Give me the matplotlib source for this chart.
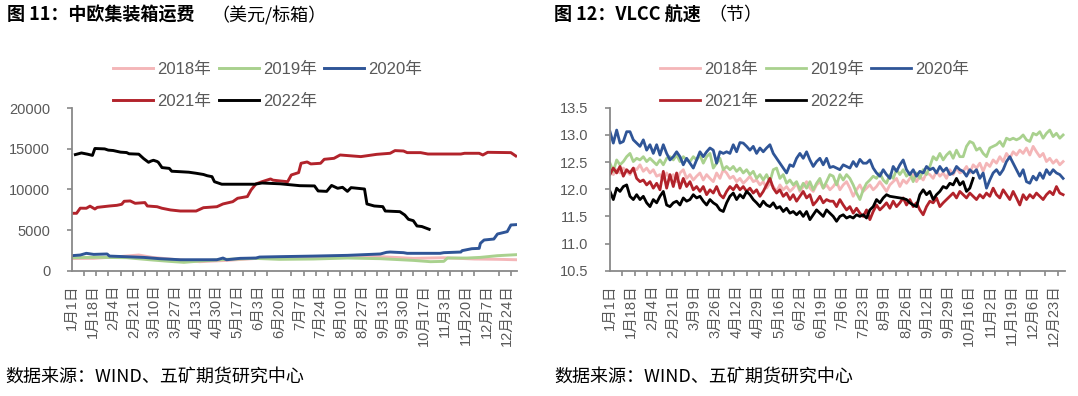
import numpy as np
import matplotlib.pyplot as plt
from matplotlib.ticker import MultipleLocator

plt.rcParams['font.family'] = ['Liberation Sans', 'Noto Sans CJK SC']

W, H = 1078, 396
GRAY = '#898989'
TXT = '#595959'
colors = {'2018年': '#F4B6B8', '2019年': '#A9D18E', '2020年': '#2F5597',
          '2021年': '#B2232B', '2022年': '#000000'}

# ---- 图11 中欧集装箱运费 (美元/标箱), x = 天数(自1月1日起)
freight_2018_day = [0, 18, 40, 55, 66, 90, 105, 127, 150, 175, 200, 230, 253, 280, 305, 330, 350, 364]
freight_2018 = [1500, 1520, 1750, 1930, 1640, 1300, 1110, 1270, 1500, 1650, 1730, 1750, 1730, 1520, 1600, 1440, 1400, 1350]
freight_2019_day = [0, 20, 45, 66, 80, 92, 105, 127, 150, 170, 198, 226, 253, 280, 294, 305, 308, 324, 335, 349, 364]
freight_2019 = [1600, 1650, 1600, 1320, 1150, 1030, 1190, 1400, 1520, 1400, 1440, 1560, 1480, 1270, 1110, 1150, 1560, 1560, 1640, 1850, 1970]
freight_2020_day = [0, 7, 12, 18, 29, 31, 45, 59, 72, 89, 119, 124, 127, 138, 151, 154, 171, 198, 226, 253, 258,
                    261, 272, 275, 302, 305, 319, 320, 328, 334, 335, 338, 346, 349, 357, 360, 364]
freight_2020 = [1850, 1930, 2140, 2010, 2060, 1800, 1720, 1640, 1480, 1350, 1350, 1560, 1350, 1520, 1560, 1680, 1730,
                1800, 1890, 2060, 2260, 2300, 2220, 2140, 2140, 2220, 2300, 2470, 2710, 2750, 3370, 3780, 3900, 4520,
                4810, 5630, 5670]
freight_2021_day = [0, 4, 7, 12, 15, 19, 21, 31, 37, 41, 43, 48, 52, 60, 62, 70, 74, 81, 89, 102, 108, 119, 124, 132,
                    136, 144, 147, 151, 156, 163, 165, 171, 177, 180, 186, 188, 193, 196, 204, 207, 215, 220, 237, 250,
                    261, 265, 272, 275, 286, 292, 319, 322, 334, 337, 341, 360, 364]
freight_2021 = [7070, 7070, 7700, 7690, 7950, 7600, 7800, 7970, 8050, 8180, 8550, 8590, 8300, 8390, 7970, 7880, 7690,
                7480, 7350, 7350, 7760, 7880, 8220, 8500, 8920, 9130, 9940, 10680, 10960, 11300, 11150, 11050, 10960,
                11790, 12080, 13230, 13390, 13150, 13230, 13720, 13840, 14250, 14050, 14330, 14460, 14790, 14740,
                14540, 14540, 14370, 14370, 14460, 14460, 14250, 14580, 14540, 14130]
freight_2022_day = [3, 8, 13, 17, 19, 27, 30, 34, 40, 45, 47, 55, 59, 63, 65, 67, 70, 71, 74, 80, 82, 88, 96, 102, 108,
                    111, 115, 117, 123, 150, 156, 171, 187, 199, 202, 209, 213, 218, 222, 226, 229, 240, 242, 248, 255,
                    257, 269, 273, 276, 280, 283, 287, 293]
freight_2022 = [14300, 14500, 14350, 14200, 15050, 15000, 14850, 14800, 14600, 14550, 14400, 14350, 13800, 13350,
                13500, 13600, 13450, 13350, 12700, 12600, 12250, 12200, 12130, 12000, 11850, 11700, 11580, 10960,
                10650, 10650, 10800, 10700, 10470, 10440, 9820, 9770, 10500, 10150, 10270, 9770, 10230, 10060, 8220,
                7970, 7890, 7350, 7270, 6860, 6330, 6160, 5510, 5440, 5100]

left_labels = ['1月1日', '1月18日', '2月4日', '2月21日', '3月10日', '3月27日', '4月13日', '4月30日', '5月17日',
               '6月3日', '6月20日', '7月7日', '7月24日', '8月10日', '8月27日', '9月13日', '9月30日', '10月17日',
               '11月3日', '11月20日', '12月7日', '12月24日']

# ---- 图12 VLCC 航速 (节), 约每2.68天读一个点
speed_step = 2.68
speed_2018 = [12.42, 12.27, 12.36, 12.30, 12.39, 12.33, 12.27, 12.39, 12.36, 12.45, 12.33, 12.39, 12.30, 12.36, 12.24,
              12.27, 12.17, 12.30, 12.20, 12.27, 12.14, 12.30, 12.36, 12.20, 12.27, 12.17, 12.24, 12.30, 12.17, 12.27,
              12.20, 12.14, 12.30, 12.20, 12.36, 12.30, 12.20, 12.24, 12.14, 12.20, 12.11, 12.17, 12.24, 12.14, 12.17,
              12.08, 12.14, 12.02, 12.11, 12.05, 11.96, 12.08, 11.99, 12.05, 11.96, 12.02, 12.11, 11.96, 12.05, 12.14,
              12.02, 11.96, 12.08, 12.14, 12.02, 12.08, 11.99,
              12.05, 12.14, 11.99, 12.08, 12.14, 12.02, 11.87, 11.99, 12.08, 11.96, 12.02, 12.08, 11.99, 12.05, 12.14,
              12.05, 11.96, 12.08, 12.14, 12.20, 12.05, 12.17, 12.11, 12.20, 12.27, 12.14, 12.24, 12.17, 12.30, 12.27,
              12.20, 12.33, 12.24, 12.30, 12.20, 12.36, 12.27, 12.39, 12.30, 12.33, 12.42, 12.30, 12.45, 12.39, 12.48,
              12.33, 12.48, 12.42, 12.54, 12.48, 12.60, 12.51, 12.66, 12.57, 12.69, 12.63, 12.72, 12.66, 12.76, 12.63,
              12.79, 12.69, 12.60, 12.66, 12.51, 12.57, 12.48, 12.54, 12.45, 12.51]
speed_2019 = [12.48, 12.33, 12.54, 12.45, 12.51, 12.60, 12.66, 12.51, 12.57, 12.54, 12.60, 12.51, 12.57, 12.51, 12.45,
              12.54, 12.45, 12.57, 12.60, 12.54, 12.63, 12.51, 12.60, 12.54, 12.51, 12.60, 12.54, 12.63, 12.48, 12.60,
              12.66, 12.39, 12.48, 12.57, 12.36, 12.42, 12.36, 12.42, 12.33, 12.39, 12.30, 12.36, 12.27, 12.33, 12.20,
              12.27, 12.17, 12.27, 12.14, 12.36, 12.39, 12.20, 12.27, 12.11, 12.17, 12.08, 12.14, 11.99, 12.11, 12.02,
              12.14, 11.99, 12.11, 12.20, 12.02, 12.14, 12.27,
              12.24, 12.08, 12.27, 12.17, 12.27, 12.20, 12.08, 11.93, 11.81, 11.99, 12.11, 12.17, 12.24, 12.20, 12.30,
              12.17, 12.11, 12.27, 12.20, 12.36, 12.27, 12.36, 12.24, 12.30, 12.14, 12.30, 12.20, 12.36, 12.27, 12.42,
              12.60, 12.54, 12.66, 12.54, 12.63, 12.69, 12.57, 12.72, 12.60, 12.60, 12.79, 12.88, 12.85, 12.72, 12.76,
              12.66, 12.60, 12.76, 12.79, 12.82, 12.88, 12.79, 12.94, 12.91, 12.94, 12.91, 12.94, 13.00, 12.91, 12.88,
              13.03, 13.00, 13.06, 12.94, 13.03, 13.09, 12.97, 13.03, 12.94, 13.00]
speed_2020 = [13.06, 12.85, 13.09, 12.85, 12.88, 13.06, 13.06, 12.91, 12.85, 12.79, 12.91, 12.72, 12.82, 12.66, 12.82,
              12.63, 12.82, 12.66, 12.54, 12.60, 12.69, 12.60, 12.45, 12.57, 12.48, 12.39, 12.54, 12.69, 12.60, 12.69,
              12.76, 12.72, 12.48, 12.69, 12.66, 12.69, 12.66, 12.82, 12.69, 12.86, 12.85, 12.79, 12.72, 12.79, 12.66,
              12.76, 12.69, 12.76, 12.82, 12.66, 12.57, 12.48, 12.39, 12.30, 12.45, 12.42, 12.57, 12.66, 12.57, 12.69,
              12.54, 12.42, 12.51, 12.57, 12.45, 12.57, 12.40,
              12.42, 12.39, 12.36, 12.45, 12.42, 12.39, 12.51, 12.42, 12.55, 12.48, 12.48, 12.54, 12.39, 12.30, 12.24,
              12.36, 12.27, 12.20, 12.42, 12.33, 12.45, 12.54, 12.36, 12.27, 12.36, 12.24, 12.33, 12.30, 12.42, 12.36,
              12.39, 12.30, 12.42, 12.33, 12.39, 12.27, 12.30, 12.42, 12.36, 12.33, 12.24, 12.36, 12.30, 12.36, 12.20,
              12.30, 12.02, 12.17, 12.30, 12.36, 12.27, 12.36, 12.51, 12.60, 12.48, 12.36, 12.24, 12.36, 12.14, 12.11,
              12.24, 12.17, 12.30, 12.20, 12.36, 12.27, 12.36, 12.30, 12.27, 12.20]
speed_2021 = [12.27, 12.39, 12.30, 12.42, 12.24, 12.36, 12.30, 12.39, 12.20, 12.14, 12.17, 12.08, 12.14, 12.02, 12.11,
              11.99, 12.33, 12.02, 12.27, 12.05, 12.30, 12.02, 12.20, 12.05, 12.14, 11.99, 12.05, 11.96, 12.05, 11.90,
              11.99, 11.93, 12.05, 11.90, 11.84, 11.96, 12.05, 11.99, 12.08, 11.99, 12.05, 11.96, 12.02, 11.93, 11.99,
              11.87, 11.96, 12.08, 12.20, 12.02, 11.93, 11.99, 11.87, 11.93, 11.81, 11.90, 11.78, 11.87, 11.96, 11.84,
              11.90, 11.71, 11.78, 11.87, 11.75, 11.81, 11.78,
              11.78, 11.68, 11.81, 11.71, 11.62, 11.68, 11.56, 11.65, 11.56, 11.50, 11.62, 11.44, 11.59, 11.71, 11.62,
              11.68, 11.75, 11.65, 11.78, 11.68, 11.75, 11.84, 11.71, 11.81, 11.68, 11.75, 11.62, 11.53, 11.68, 11.78,
              11.75, 11.84, 11.68, 11.75, 11.81, 11.87, 11.93, 11.84, 11.96, 11.90, 11.84, 11.93, 11.87, 11.81, 11.90,
              11.84, 11.93, 11.87, 12.02, 11.90, 11.84, 11.99, 11.90, 11.81, 11.96, 11.84, 11.71, 11.90, 11.81, 11.90,
              11.84, 11.93, 11.87, 11.81, 11.90, 11.96, 11.90, 12.05, 11.93, 11.90]
speed_2022 = [11.96, 11.81, 12.02, 11.96, 12.05, 12.08, 11.87, 11.81, 11.90, 11.81, 11.87, 11.75, 11.68, 11.81, 11.75,
              11.87, 11.96, 11.71, 11.68, 11.75, 11.78, 11.71, 11.84, 11.78, 11.81, 11.90, 11.84, 11.87, 11.78, 11.71,
              11.81, 11.75, 11.71, 11.62, 11.59, 11.75, 11.87, 11.93, 11.81, 11.90, 11.84, 11.96, 11.90, 11.81, 11.75,
              11.68, 11.78, 11.71, 11.68, 11.75, 11.65, 11.68, 11.59, 11.65, 11.56, 11.59, 11.53, 11.59, 11.50, 11.59,
              11.44, 11.53, 11.62, 11.56, 11.50, 11.62, 11.56,
              11.50, 11.41, 11.50, 11.53, 11.47, 11.50, 11.47, 11.53, 11.50, 11.53, 11.47, 11.62, 11.68, 11.81, 11.75,
              11.84, 11.90, 11.87, 11.86, 11.85, 11.84, 11.83, 11.81, 11.75, 11.71, 11.68, 11.90, 11.99, 11.90, 11.96,
              11.81, 11.90, 11.96, 12.05, 12.02, 12.11, 12.08, 12.20, 12.08, 12.14, 11.96, 12.02, 12.20]

right_labels = ['1月1日', '1月18日', '2月4日', '2月21日', '3月9日', '3月26日', '4月12日', '4月29日', '5月16日',
                '6月2日', '6月19日', '7月6日', '7月23日', '8月9日', '8月26日', '9月12日', '9月29日', '10月16日',
                '11月2日', '11月19日', '12月6日', '12月23日']


fig = plt.figure(figsize=(W / 100, H / 100), dpi=100)
ax1 = fig.add_axes([71.7 / W, 1 - 270.7 / H, 445.3 / W, 162.4 / H])
ax2 = fig.add_axes([610 / W, 1 - 270.7 / H, 455 / W, 162.9 / H])

left_series = [('2018年', freight_2018_day, freight_2018), ('2019年', freight_2019_day, freight_2019),
               ('2020年', freight_2020_day, freight_2020), ('2021年', freight_2021_day, freight_2021),
               ('2022年', freight_2022_day, freight_2022)]
for name, d, v in left_series:
    ax1.plot(d, v, color=colors[name], lw=2.1, label=name)

right_series = [('2018年', speed_2018), ('2019年', speed_2019), ('2020年', speed_2020),
                ('2021年', speed_2021), ('2022年', speed_2022)]
for name, v in right_series:
    ax2.plot(np.arange(len(v)) * speed_step, v, color=colors[name], lw=2.0, label=name)


def style_axes(ax, ndays, labels, ylim, yticks, fmt):
    ax.set_xlim(0, ndays)
    ax.set_ylim(*ylim)
    ax.set_yticks(yticks)
    ax.set_yticklabels([fmt.format(t) for t in yticks])
    ax.set_xticks(np.arange(0, ndays, 17)[:len(labels)])
    ax.set_xticklabels(labels, rotation=90)
    ax.xaxis.set_minor_locator(MultipleLocator(10))
    for s in ['top', 'right']:
        ax.spines[s].set_visible(False)
    for s in ['left', 'bottom']:
        ax.spines[s].set_color(GRAY)
        ax.spines[s].set_linewidth(1.3)
    ax.tick_params(axis='x', which='major', length=0, pad=10, labelsize=10.5, labelcolor=TXT)
    ax.tick_params(axis='x', which='minor', length=3.5, width=1.2, color=GRAY, direction='out')
    ax.tick_params(axis='y', length=3.5, width=1.2, color=GRAY, pad=12, labelsize=10.5, labelcolor=TXT)


style_axes(ax1, 365, left_labels, (0, 20000), [0, 5000, 10000, 15000, 20000], '{:.0f}')
style_axes(ax2, 366, right_labels, (10.5, 13.5), [10.5, 11.0, 11.5, 12.0, 12.5, 13.0, 13.5], '{:.1f}')


def add_legend(ax, x0, y0):
    h, l = ax.get_legend_handles_labels()
    order = [0, 3, 1, 4, 2]
    fig.legend([h[i] for i in order], [l[i] for i in order], ncol=3, loc='upper left',
               bbox_to_anchor=(x0 / W, 1 - y0 / H), frameon=False, fontsize=12,
               handlelength=2.4, handletextpad=0.25, columnspacing=0.45, labelspacing=1.02,
               borderpad=0, borderaxespad=0, labelcolor=TXT)


add_legend(ax1, 113, 62)
add_legend(ax2, 660, 62)

cjk = ['Noto Sans CJK SC', 'DejaVu Sans']
fig.text(7 / W, 1 - 15.5 / H, '图 11：中欧集装箱运费', fontsize=13, weight='bold', va='center', family=cjk)
fig.text(211 / W, 1 - 15.5 / H, '（美元/标箱）', fontsize=13, va='center', family=cjk)
fig.text(554 / W, 1 - 15.5 / H, '图 12：VLCC 航速', fontsize=13, weight='bold', va='center', family=cjk)
fig.text(708 / W, 1 - 15.5 / H, '（节）', fontsize=13, va='center', family=cjk)
fig.text(5 / W, 1 - 377 / H, '数据来源：WIND、五矿期货研究中心', fontsize=13, va='center', family=cjk)
fig.text(554 / W, 1 - 377 / H, '数据来源：WIND、五矿期货研究中心', fontsize=13, va='center', family=cjk)

fig.savefig('out.png', dpi=100)
